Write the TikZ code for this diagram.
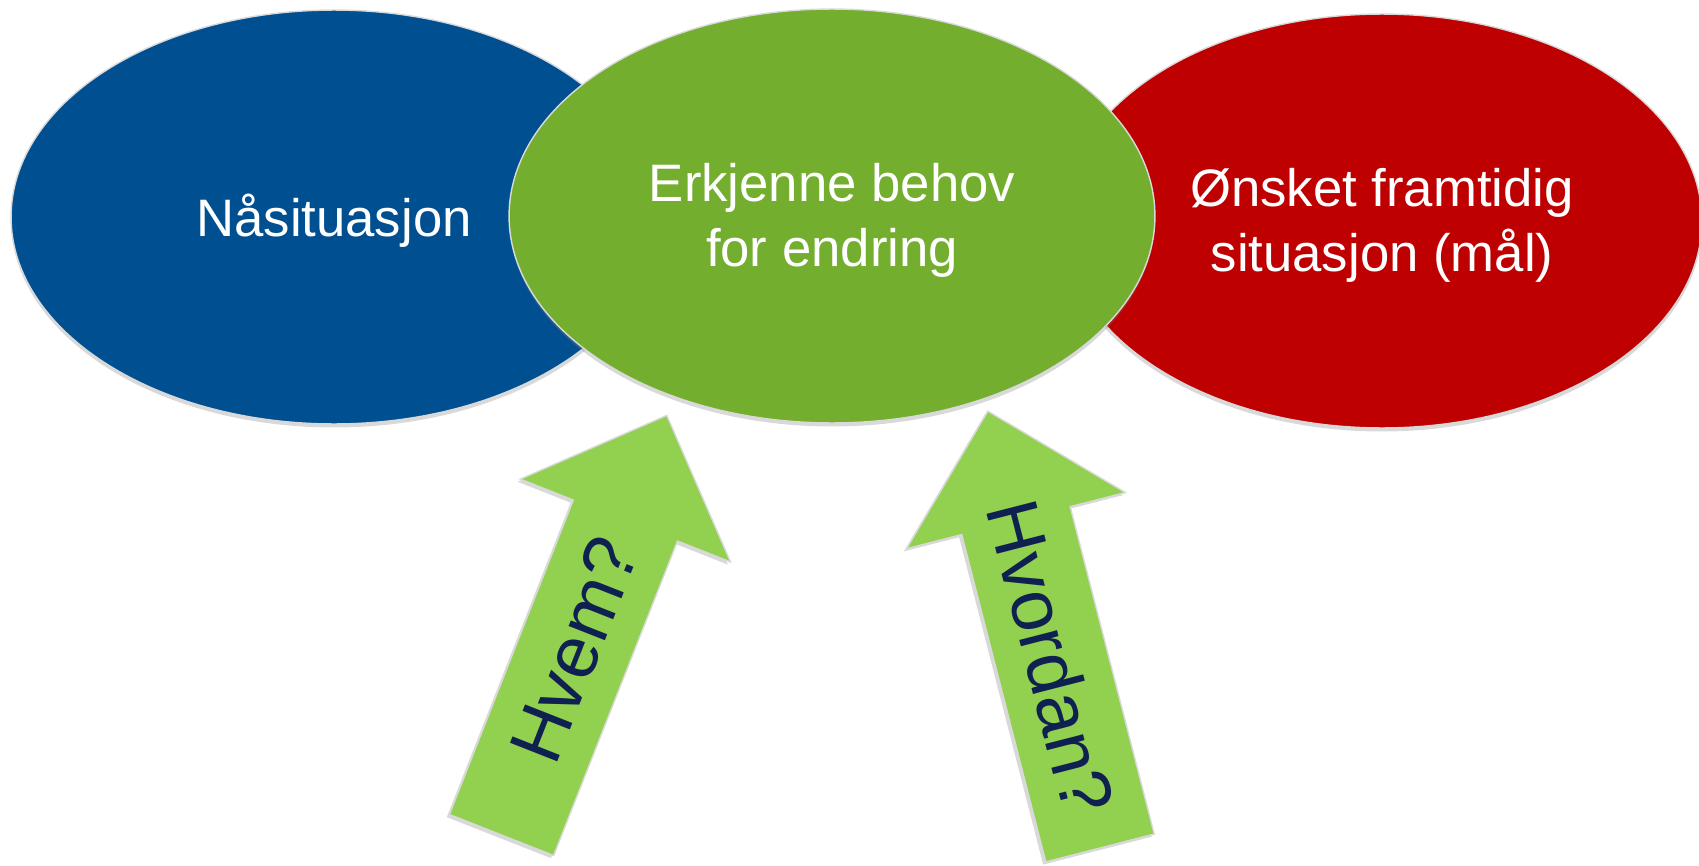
\documentclass[tikz,border=0pt]{standalone}
\usepackage{fontspec}
\setmainfont{Liberation Sans}
\usetikzlibrary{shapes.geometric,shadows}
\definecolor{nablue}{HTML}{005091}
\definecolor{erkgreen}{HTML}{73AE2F}
\definecolor{malred}{HTML}{BE0000}
\definecolor{pilgreen}{HTML}{92D050}
\definecolor{pilnavy}{HTML}{0E2150}

\begin{document}
\begin{tikzpicture}[x=0.02cm,y=-0.02cm,
        oval/.style={ellipse,draw=gray!30,line width=0.8pt,minimum width=12.92cm,minimum height=8.28cm,
            inner sep=0pt,drop shadow={shadow xshift=0pt,shadow yshift=-2pt,opacity=0.3}},
        ovaltekst/.style={text=white,align=center,inner sep=0pt,font=\fontsize{30}{37}\selectfont},
        pil/.style={fill=pilgreen,draw=gray!30,line width=0.8pt,
            drop shadow={shadow xshift=-1.5pt,shadow yshift=-1.5pt,opacity=0.3}},
        piltekst/.style={text=pilnavy,inner sep=0pt,font=\fontsize{42}{50}\selectfont}]
        \useasboundingbox (0,0) rectangle (1699,865);
        \node[oval,fill=nablue] (A) at (334,217) {};
        \node[ovaltekst] (A1) at ([yshift=-2pt]A.center) {Nåsituasjon};
        \node[oval,fill=malred,minimum width=12.8cm] (C) at (1382,221) {};
        \node[ovaltekst] (C1) at ([yshift=-2.5pt]C.center) {Ønsket framtidig\\situasjon (mål)};
        \node[oval,fill=erkgreen] (B) at (832,216) {};
        \node[ovaltekst] (B1) at ([yshift=-2.5pt]B.center) {Erkjenne behov\\for endring};
        \begin{scope}[shift={(501.5,835)},rotate=68.5]
            \draw[pil] (0,-56) -- (338,-56) -- (338,-113) -- (451,0) -- (338,113) -- (338,56) -- (0,56) -- cycle;
            \node[piltekst,rotate=68.5] (D) at (199,0) {Hvem?};
        \end{scope}
        \begin{scope}[shift={(1100,848)},rotate=104.4]
            \draw[pil] (0,-56) -- (338,-56) -- (338,-113) -- (451,0) -- (338,113) -- (338,56) -- (0,56) -- cycle;
            \node[piltekst,rotate=-75.6] (E) at (197,0) {Hvordan?};
        \end{scope}
    \end{tikzpicture}
\end{document}
